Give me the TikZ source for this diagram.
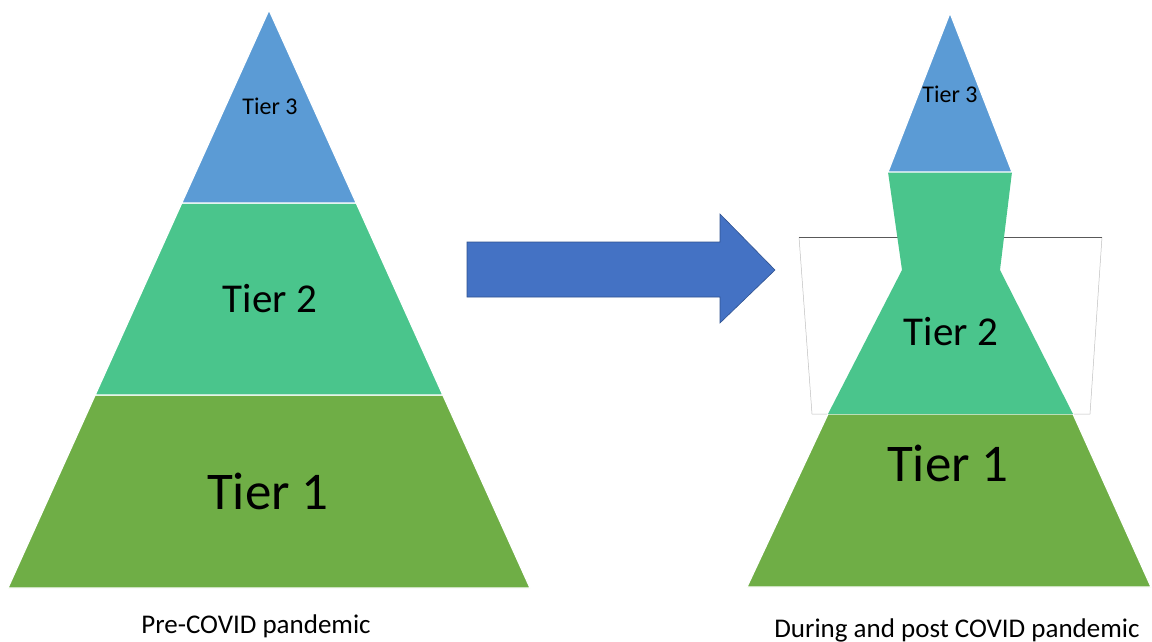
\documentclass[tikz,border=0pt]{standalone}
\usepackage{fontspec}
\setmainfont{Carlito}
\usetikzlibrary{positioning}
\definecolor{tierblue}{RGB}{91,155,213}
\definecolor{tiermint}{RGB}{74,197,140}
\definecolor{tiergrass}{RGB}{111,174,70}
\definecolor{arrowblue}{RGB}{68,114,196}
\definecolor{arrowedge}{RGB}{47,82,143}

\begin{document}
\begin{tikzpicture}[x=1pt, y=-1pt,
  band/.style={draw=white, line width=1.2pt, line join=round},
  lbl/.style={inner sep=0pt, text=black},
  tsmall/.style={lbl, font=\fontsize{24}{28}\selectfont},
  tmid/.style={lbl, font=\fontsize{41}{48}\selectfont},
  tbig/.style={lbl, font=\fontsize{53}{62}\selectfont},
  caption/.style={lbl, anchor=base, font=\fontsize{27}{32}\selectfont}]
  \useasboundingbox (0,0) rectangle (1152,642);

  % Left: pyramid before
  \fill[tiergrass, band] (95.2,395) -- (442.8,395) -- (530,588) -- (8,588) -- cycle;
  \fill[tiermint, band] (181.8,203) -- (356.2,203) -- (442.8,395) -- (95.2,395) -- cycle;
  \fill[tierblue, band] (269,10) -- (356.2,203) -- (181.8,203) -- cycle;

  \node[tsmall] (lthree) at (270,106) {Tier 3};
  \node[tmid] (ltwo) at (270,299) {Tier 2};
  \node[tbig] (lone) at (268,491) {Tier 1};
  \node[caption] (lcap) at (256,633) {Pre-COVID pandemic};

  % Arrow between
  \fill[arrowblue, draw=arrowedge, line width=0.6pt, line join=miter]
    (467,242) -- (720,242) -- (720,214) -- (775,270) -- (720,323)
    -- (720,297) -- (467,297) -- cycle;

  % Right: reshaped pyramid
  \fill[white] (799,237) -- (1102,237) -- (1090,414) -- (812,414) -- cycle;
  \draw[black!25, line width=0.5pt] (799,237) -- (812,414) -- (1090,414) -- (1102,237);
  \draw[black!65, line width=0.8pt] (799,237) -- (1102,237);

  \fill[tiergrass, band] (828,414) -- (1073,414) -- (1151,587) -- (747,587) -- cycle;
  \fill[tiermint] (888,172) -- (1012,172) -- (1000,270) -- (1073,414)
    -- (828,414) -- (902,270) -- cycle;
  \fill[tierblue, band] (950,13) -- (1012,172) -- (888,172) -- cycle;

  \node[tsmall] (rthree) at (950,94) {Tier 3};
  \node[tmid] (rtwo) at (951,332) {Tier 2};
  \node[tbig] (rone) at (948,463) {Tier 1};
  \node[caption] (rcap) at (957,637) {During and post COVID pandemic};
\end{tikzpicture}
\end{document}
